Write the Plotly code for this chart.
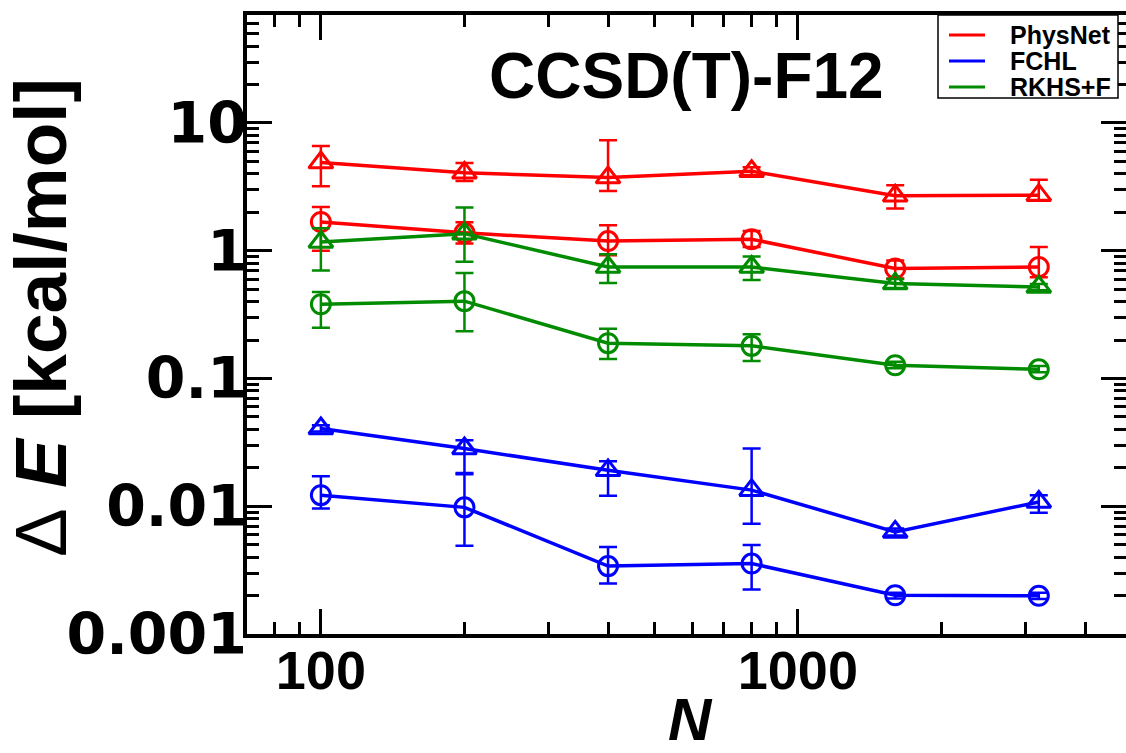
import math
import plotly.graph_objects as go

# ---- data ----
N = [100, 200, 400, 800, 1600, 3200]

physnet_tri = [4.9, 4.07, 3.74, 4.19, 2.69, 2.72]
physnet_tri_hi = [6.6, 4.86, 7.33, 4.5, 3.25, 3.6]
physnet_tri_lo = [3.2, 3.52, 2.94, 3.9, 2.14, 2.5]

physnet_circ = [1.68, 1.38, 1.19, 1.23, 0.726, 0.746]
physnet_circ_hi = [2.2, 1.67, 1.58, 1.43, 0.84, 1.07]
physnet_circ_lo = [1.0, 1.14, 0.92, 1.07, 0.605, 0.62]

rkhs_tri = [1.17, 1.36, 0.746, 0.746, 0.553, 0.52]
rkhs_tri_hi = [1.5, 2.18, 0.94, 0.9, 0.6, 0.55]
rkhs_tri_lo = [0.70, 0.82, 0.56, 0.59, 0.51, 0.49]

rkhs_circ = [0.381, 0.403, 0.189, 0.18, 0.127, 0.118]
rkhs_circ_hi = [0.476, 0.67, 0.245, 0.222, 0.135, 0.125]
rkhs_circ_lo = [0.249, 0.234, 0.142, 0.137, 0.12, 0.112]

fchl_tri = [0.0406, 0.0283, 0.0191, 0.01337, 0.0063, 0.0108]
fchl_tri_hi = [0.043, 0.0329, 0.0225, 0.0283, 0.0067, 0.0122]
fchl_tri_lo = [0.0385, 0.0182, 0.0121, 0.0073, 0.0059, 0.0089]

fchl_circ = [0.0122, 0.0098, 0.0034, 0.00356, 0.00201, 0.00199]
fchl_circ_hi = [0.0172, 0.0178, 0.0048, 0.00497, 0.0021, 0.0021]
fchl_circ_lo = [0.0096, 0.0049, 0.00249, 0.00223, 0.0019, 0.00188]

x_major = [100, 1000]
x_major_text = ["100", "1000"]
x_minor = [70, 80, 90, 200, 300, 400, 500, 600, 700, 800, 900, 2000, 3000, 4000]
y_major = [0.001, 0.01, 0.1, 1, 10]
y_major_text = ["0.001", "0.01", "0.1", "1", "10"]
y_minor = [m * 10 ** e for e in range(-3, 2) for m in range(2, 10) if m * 10 ** e < 70]

legend_names = ["PhysNet", "FCHL", "RKHS+F"]

RED = "rgb(255,0,0)"
BLUE = "rgb(0,0,255)"
GREEN = "rgb(0,139,0)"
legend_colors = [RED, BLUE, GREEN]

series = [
    (physnet_tri, physnet_tri_hi, physnet_tri_lo, RED, "triangle-up-open"),
    (physnet_circ, physnet_circ_hi, physnet_circ_lo, RED, "circle-open"),
    (rkhs_tri, rkhs_tri_hi, rkhs_tri_lo, GREEN, "triangle-up-open"),
    (rkhs_circ, rkhs_circ_hi, rkhs_circ_lo, GREEN, "circle-open"),
    (fchl_tri, fchl_tri_hi, fchl_tri_lo, BLUE, "triangle-up-open"),
    (fchl_circ, fchl_circ_hi, fchl_circ_lo, BLUE, "circle-open"),
]

fig = go.Figure()
for vals, hi, lo, col, sym in series:
    fig.add_trace(go.Scatter(
        x=N, y=vals, mode="lines+markers", showlegend=False,
        line=dict(color=col, width=3.5),
        marker=dict(symbol=sym, size=21 if sym.startswith("tri") else 19,
                    color=col, line=dict(color=col, width=3)),
        error_y=dict(type="data", symmetric=False,
                     array=[h - v for h, v in zip(hi, vals)],
                     arrayminus=[v - l for v, l in zip(vals, lo)],
                     color=col, thickness=2.5, width=9),
    ))

# dummy trace for mirrored axes
fig.add_trace(go.Scatter(x=[100], y=[1], xaxis="x2", yaxis="y2", mode="markers",
                         marker=dict(opacity=0), showlegend=False, hoverinfo="skip"))

W, H = 1126, 753
L, R, T, B = 247, 0, 15, 119
xr = [math.log10(70), 3.688]
yr = [-3, math.log10(70)]
pw = W - L - R
ph = H - T - B


def px_x(x):
    return (x - L) / pw


def px_y(y):
    return (H - B - y) / ph


tickfont_x = dict(family="Liberation Sans", size=54, color="black", weight="bold")
tickfont_y = dict(family="DejaVu Sans", size=57, color="black", weight="bold")
minor_common = dict(ticks="inside", ticklen=12, tickwidth=3, tickcolor="black", showgrid=False)

fig.update_layout(
    width=W, height=H,
    margin=dict(l=L, r=R, t=T, b=B),
    paper_bgcolor="white", plot_bgcolor="white",
    showlegend=False,
    xaxis=dict(type="log", range=xr, showline=True, linewidth=3.5, linecolor="black",
               mirror=False, ticks="inside", ticklen=25, tickwidth=3, tickcolor="black",
               tickmode="array", tickvals=x_major, ticktext=x_major_text,
               tickfont=tickfont_x, showgrid=False, zeroline=False,
               minor=dict(tickmode="array", tickvals=x_minor, **minor_common),
               ticklabelstandoff=-14),
    xaxis2=dict(type="log", range=xr, overlaying="x", side="top", anchor="y",
                showline=True, linewidth=3.5, linecolor="black",
                ticks="inside", ticklen=25, tickwidth=3, tickcolor="black",
                tickmode="array", tickvals=x_major, showticklabels=False,
                showgrid=False, zeroline=False,
                minor=dict(tickmode="array", tickvals=x_minor, **minor_common)),
    yaxis=dict(type="log", range=yr, showline=True, linewidth=3.5, linecolor="black",
               mirror=False, ticks="inside", ticklen=25, tickwidth=3, tickcolor="black",
               tickmode="array", tickvals=y_major, ticktext=y_major_text,
               tickfont=tickfont_y, showgrid=False, zeroline=False,
               minor=dict(tickmode="array", tickvals=y_minor, **minor_common),
               ticklabelstandoff=-15),
    yaxis2=dict(type="log", range=yr, overlaying="y", side="right", anchor="x",
                showline=False, ticks="inside", ticklen=25, tickwidth=3, tickcolor="black",
                tickmode="array", tickvals=y_major, showticklabels=False,
                showgrid=False, zeroline=False,
                minor=dict(tickmode="array", tickvals=y_minor, **minor_common)),
)

# ---- legend drawn by hand (box, sample lines, labels) ----
fig.add_shape(type="rect", xref="paper", yref="paper",
              x0=px_x(938), x1=px_x(1118), y0=px_y(98), y1=px_y(15),
              line=dict(color="black", width=1.5), fillcolor="white", layer="above")
legend_rows = [35, 61, 87]
for name, col, ry in zip(legend_names, legend_colors, legend_rows):
    fig.add_shape(type="line", xref="paper", yref="paper",
                  x0=px_x(949), x1=px_x(985), y0=px_y(ry), y1=px_y(ry),
                  line=dict(color=col, width=3), layer="above")
    fig.add_annotation(text=name, xref="paper", yref="paper",
                       x=px_x(1008), y=px_y(ry), xanchor="left", yanchor="middle",
                       showarrow=False,
                       font=dict(family="Liberation Sans", size=25, color="black", weight="bold"))

fig.add_annotation(text="CCSD(T)-F12", xref="paper", yref="paper",
                   x=px_x(686), y=px_y(76), xanchor="center", yanchor="middle",
                   showarrow=False,
                   font=dict(family="Liberation Sans", size=64, color="black", weight="bold"))
fig.add_annotation(text="<span style='font-weight:normal'>Δ</span> <i>E</i> [kcal/mol]",
                   xref="paper", yref="paper", textangle=-90,
                   x=px_x(40), y=px_y(318), xanchor="center", yanchor="middle",
                   showarrow=False,
                   font=dict(family="Liberation Sans", size=73, color="black", weight="bold"))
fig.add_annotation(text="<i>N</i>", xref="paper", yref="paper",
                   x=px_x(690), y=px_y(719), xanchor="center", yanchor="middle",
                   showarrow=False,
                   font=dict(family="Liberation Sans", size=60, color="black", weight="bold"))

fig.write_html("out.html", config={"displayModeBar": False},
               post_script="document.body.style.margin='0';")
